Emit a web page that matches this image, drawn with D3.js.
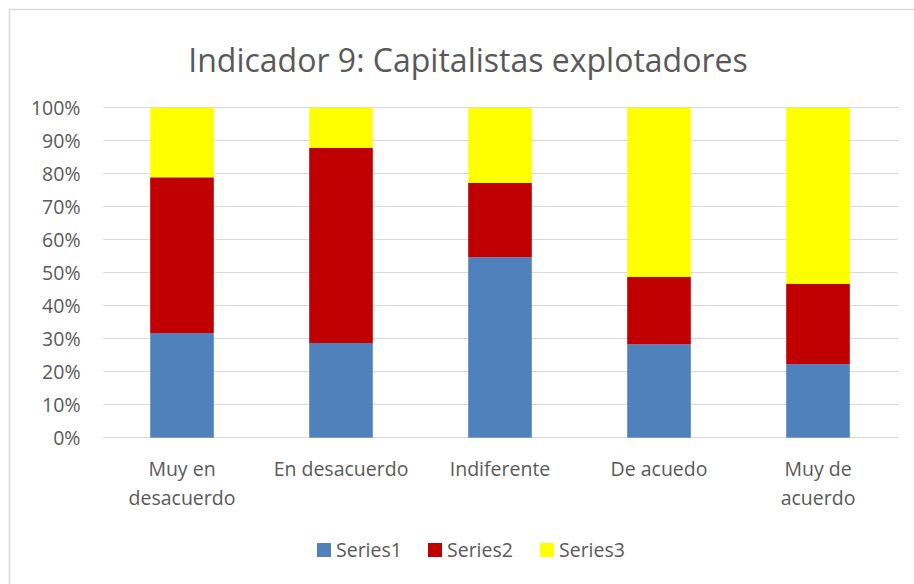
<!DOCTYPE html>
<meta charset="utf-8">
<style>
body {
	margin: 0;
	background-color: #ffffff;
}
svg text {
	font-family: "Open Sans", sans-serif;
}
.axis text {
	fill: #595959;
	font-size: 19.5px;
}
.grid line {
	stroke: #d9d9d9;
	stroke-width: 1.3;
	shape-rendering: crispEdges;
}
</style>
<body>
<script src="https://d3js.org/d3.v7.min.js"></script>
<script>
var width = 914;
var height = 584;

var categories = ['Muy en\ndesacuerdo', 'En desacuerdo', 'Indiferente', 'De acuedo', 'Muy de\nacuerdo'];
var seriesNames = ['Series1', 'Series2', 'Series3'];
var series1 = [31.7, 28.7, 54.7, 28.3, 22.3];
var series2 = [47.2, 59.1, 22.5, 20.4, 24.3];
var series3 = [21.1, 12.2, 22.8, 51.3, 53.4];
var yTicks = [0, 10, 20, 30, 40, 50, 60, 70, 80, 90, 100];
var colors = ['#4f81bd', '#c00000', '#ffff00'];

var rows = categories.map(function(c, i) {
	return {cat: c, Series1: series1[i], Series2: series2[i], Series3: series3[i]};
});

var margin = {top: 107.7, left: 102.5, right: 16.5, bottom: 146.3};

var svg = d3.select('body')
	.append('svg')
	.attr('width', width)
	.attr('height', height);

// chart frame
svg.append('rect')
	.attr('x', 9.5).attr('y', 9.5)
	.attr('width', width + 20).attr('height', height + 20)
	.attr('fill', 'none')
	.attr('stroke', '#d9d9d9')
	.attr('stroke-width', 1.5);

svg.append('text')
	.attr('x', 468)
	.attr('y', 72)
	.attr('text-anchor', 'middle')
	.attr('fill', '#595959')
	.style('font-size', '32px')
	.text('Indicador 9: Capitalistas explotadores');

var x = d3.scaleBand()
	.domain(categories)
	.range([margin.left, width - margin.right])
	.paddingInner(0.6)
	.paddingOuter(0.3);

var y = d3.scaleLinear()
	.domain([0, 100])
	.range([height - margin.bottom, margin.top]);

// gridlines
svg.append('g')
	.attr('class', 'grid')
	.selectAll('line')
	.data(yTicks)
	.enter()
	.append('line')
	.attr('x1', margin.left)
	.attr('x2', width - margin.right)
	.attr('y1', function(d) { return y(d); })
	.attr('y2', function(d) { return y(d); });

var stack = d3.stack().keys(seriesNames);
var layers = stack(rows);

svg.append('g')
	.selectAll('g')
	.data(layers)
	.enter()
	.append('g')
	.attr('fill', function(d, i) { return colors[i]; })
	.selectAll('rect')
	.data(function(d) { return d; })
	.enter()
	.append('rect')
	.attr('x', function(d) { return x(d.data.cat); })
	.attr('width', x.bandwidth())
	.attr('y', function(d) { return y(d[1]); })
	.attr('height', function(d) { return y(d[0]) - y(d[1]); });

// y axis
var yAxis = d3.axisLeft(y)
	.tickValues(yTicks)
	.tickSize(0)
	.tickPadding(22)
	.tickFormat(function(d) { return d + '%'; });

var gy = svg.append('g')
	.attr('class', 'axis')
	.attr('font-family', null)
	.attr('font-size', null)
	.attr('transform', 'translate(' + margin.left + ',0)')
	.call(yAxis);
gy.select('.domain').remove();
gy.selectAll('text').attr('dy', '0.35em');

// x axis
var xAxis = d3.axisBottom(x).tickSize(0).tickPadding(0);
var gx = svg.append('g')
	.attr('class', 'axis')
	.attr('transform', 'translate(0,' + (height - margin.bottom) + ')')
	.call(xAxis);
gx.select('.domain').remove();
gx.selectAll('text').each(function(d) {
	var t = d3.select(this);
	var lines = d.split('\n');
	t.text(null).attr('y', 0).attr('dy', null);
	lines.forEach(function(l, i) {
		t.append('tspan')
			.attr('x', 0)
			.attr('y', 38 + i * 29)
			.text(l);
	});
});

// legend
var legendX = [317, 428, 540];
var legend = svg.append('g')
	.selectAll('g')
	.data(seriesNames)
	.enter()
	.append('g')
	.attr('transform', function(d, i) { return 'translate(' + legendX[i] + ',543)'; });

legend.append('rect')
	.attr('width', 14)
	.attr('height', 14)
	.attr('fill', function(d, i) { return colors[i]; });

legend.append('text')
	.attr('x', 19)
	.attr('y', 14)
	.attr('fill', '#595959')
	.style('font-size', '19.5px')
	.text(function(d) { return d; });
</script>
</body>
